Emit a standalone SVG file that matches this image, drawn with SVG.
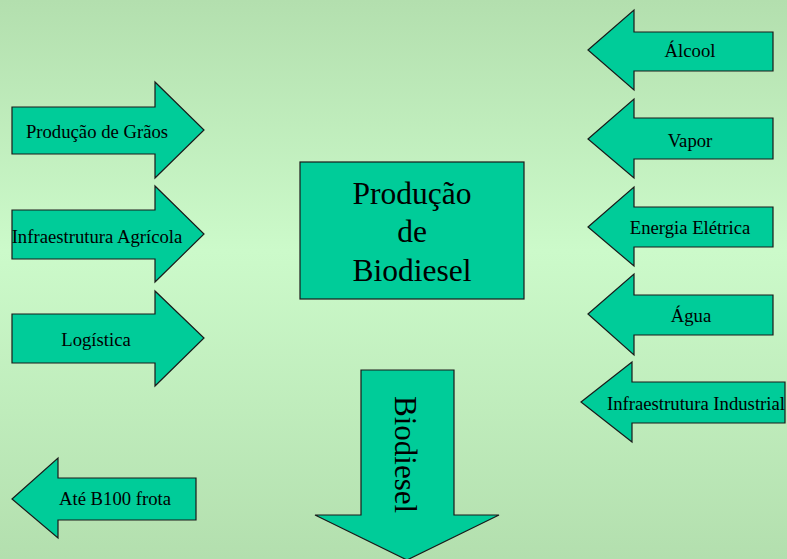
<svg xmlns="http://www.w3.org/2000/svg" width="787" height="559" viewBox="0 0 787 559">
<defs>
<linearGradient id="bg" x1="0" y1="0" x2="0" y2="1">
<stop offset="0" stop-color="#b3dfae"/>
<stop offset="0.45" stop-color="#ccfaca"/>
<stop offset="1" stop-color="#b3dfae"/>
</linearGradient>
<style>
.sh{fill:#00cc99;stroke:#1a1a1a;stroke-width:1.2;stroke-linejoin:miter}
.lb{font-family:"Liberation Serif","Times New Roman",serif;font-size:18.7px;fill:#000;text-anchor:middle}
.big{font-family:"Liberation Serif","Times New Roman",serif;font-size:31.5px;fill:#000;text-anchor:middle}
</style>
</defs>
<rect x="0" y="0" width="787" height="559" fill="url(#bg)"/>

<g id="producao-graos">
<polygon class="sh" points="12,107 155,107 155,82 204,130 155,178 155,154 12,154"/>
<text class="lb" x="97" y="138">Produção de Grãos</text>
</g>
<g id="infra-agricola">
<polygon class="sh" points="12,210 155,210 155,186 204,234 155,282 155,259 12,259"/>
<text class="lb" x="97" y="243">Infraestrutura Agrícola</text>
</g>
<g id="logistica">
<polygon class="sh" points="12,314 155,314 155,291 204,338 155,386 155,363 12,363"/>
<text class="lb" x="96" y="346">Logística</text>
</g>
<g id="ate-b100">
<polygon class="sh" points="12,499 58,458 58,478 196,478 196,520 58,520 58,538"/>
<text class="lb" x="115" y="505">Até B100 frota</text>
</g>

<g id="alcool">
<polygon class="sh" points="588,50 634,10 634,32 773,32 773,71 634,71 634,90"/>
<text class="lb" x="690" y="57">Álcool</text>
</g>
<g id="vapor">
<polygon class="sh" points="588,139 634,99 634,118 773,118 773,159 634,159 634,178"/>
<text class="lb" x="690" y="147">Vapor</text>
</g>
<g id="energia">
<polygon class="sh" points="588,227 634,187 634,207 773,207 773,247 634,247 634,266"/>
<text class="lb" x="690" y="234">Energia Elétrica</text>
</g>
<g id="agua">
<polygon class="sh" points="588,314 634,274 634,295 773,295 773,335 634,335 634,355"/>
<text class="lb" x="691" y="322">Água</text>
</g>
<g id="infra-industrial">
<polygon class="sh" points="581,402 632,362 632,382 785,382 785,423 632,423 632,442"/>
<text class="lb" x="696" y="410">Infraestrutura Industrial</text>
</g>

<g id="producao-biodiesel">
<rect class="sh" x="300" y="162" width="224" height="137"/>
<text class="big" x="412" y="204">Produção</text>
<text class="big" x="412" y="242">de</text>
<text class="big" x="412" y="281">Biodiesel</text>
</g>

<g id="biodiesel-saida">
<polygon class="sh" points="361,370 454,370 454,515 499,515 407,560 315,515 361,515"/>
<text transform="translate(395,396) rotate(90)" font-family="Liberation Serif, Times New Roman, serif" font-size="31px" fill="#000">Biodiesel</text>
</g>
</svg>
